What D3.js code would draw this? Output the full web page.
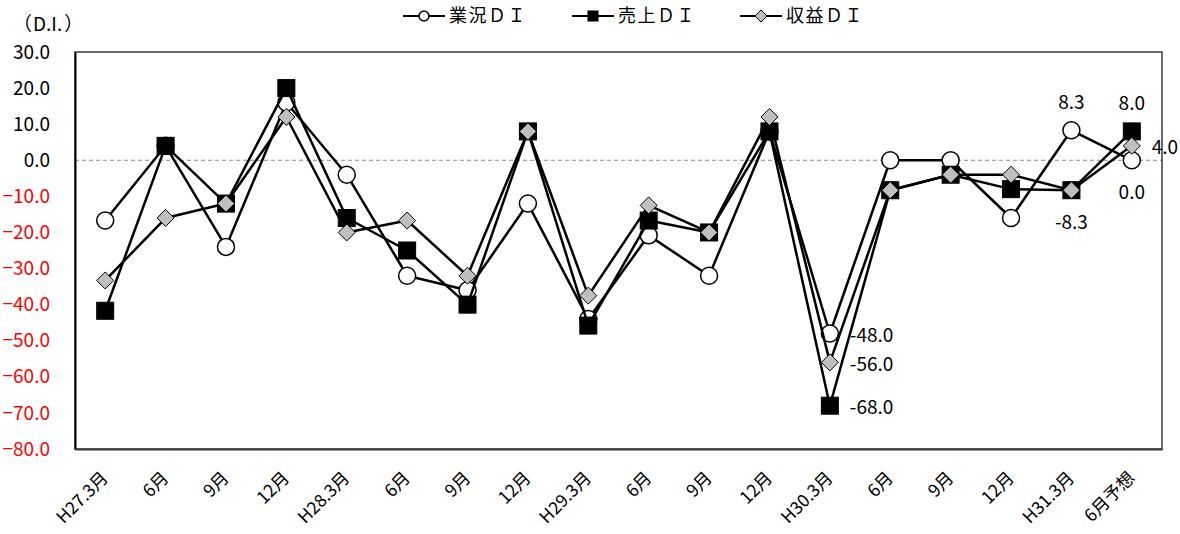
<!DOCTYPE html>
<html><head><meta charset="utf-8">
<script src="https://cdn.jsdelivr.net/npm/d3@7"></script>
<style>
body{margin:0;background:#fff}
text{font-family:"Noto Sans CJK JP","Noto Sans",sans-serif}
</style>
</head><body>
<svg id="c" width="1180" height="534"></svg>
<script>
const categories = ["H27.3月","6月","9月","12月","H28.3月","6月","9月","12月","H29.3月","6月","9月","12月","H30.3月","6月","9月","12月","H31.3月","6月予想"];
const gyokyoDI = [-16.7,4,-24,16,-4,-32,-36,-12,-44,-20.8,-32,8,-48,0,0,-16,8.3,0];
const uriageDI = [-41.7,4,-12,20,-16,-25,-40,8,-45.8,-16.7,-20,8,-68,-8.3,-4,-8,-8.3,8];
const shuekiDI = [-33.3,-16,-12,12,-20,-16.7,-32,8,-37.5,-12.5,-20,12,-56,-8.3,-4,-4,-8.3,4];
const seriesNames = ["業況ＤＩ","売上ＤＩ","収益ＤＩ"];
const yTicks = [30,20,10,0,-10,-20,-30,-40,-50,-60,-70,-80];
// data labels: [series index, category index, placement]
const dataLabels = [
  [0,12,"right"],[2,12,"right"],[1,12,"right"],
  [0,16,"above"],[1,16,"below"],
  [1,17,"above"],[2,17,"right"],[0,17,"below"]
];

const svg = d3.select("#c");
const L = 75, R = 1162, T = 52, B = 449;
const x = d3.scaleBand().domain(d3.range(categories.length)).range([L, R]);
const y = d3.scaleLinear().domain([-80, 30]).range([B, T]);
const cx = i => x(i) + x.bandwidth()/2;
const series = [gyokyoDI, uriageDI, shuekiDI];

// zero reference line
svg.append("line").attr("x1", L).attr("x2", R).attr("y1", y(0)).attr("y2", y(0))
  .attr("stroke", "#8c8c8c").attr("stroke-width", 1).attr("stroke-dasharray", "4,3");

// plot frame
svg.append("rect").attr("x", L).attr("y", T).attr("width", R-L).attr("height", B-T)
  .attr("fill", "none").attr("stroke", "#3a3a3a").attr("stroke-width", 1.5);

// y axis
const yAxis = d3.axisLeft(y).tickValues(yTicks).tickFormat(d3.format(".1f")).tickSize(0).tickPadding(25);
const gy = svg.append("g").attr("transform", `translate(${L},0)`).call(yAxis);
gy.select(".domain").attr("stroke", "#000").attr("stroke-width", 2);
gy.selectAll("text").style("font-size", "19px")
  .attr("fill", d => d < 0 ? "#ff0000" : "#000");

// x axis
const xAxis = d3.axisBottom(x).tickFormat(i => categories[i]).tickSize(0);
const gx = svg.append("g").attr("transform", `translate(0,${B})`).call(xAxis);
gx.select(".domain").attr("stroke", "#3a3a3a").attr("stroke-width", 2);
gx.selectAll("text").style("font-size", "17.5px").attr("fill", "#000")
  .attr("text-anchor", "end").attr("dy", null).attr("y", 0)
  .attr("transform", "translate(4,30) rotate(-45)");

// y axis title
const yt = svg.append("text").attr("x", 13).attr("y", 31).style("font-size", "19px");
yt.append("tspan").text("（");
yt.append("tspan").attr("dx", 1).text("D.I.");
yt.append("tspan").attr("dx", 2).text("）");

const line = d3.line().x((d,i) => cx(i)).y(d => y(d));

function drawMarker(g, type, px, py, s) {
  if (type === 0) {
    g.append("circle").attr("cx", px).attr("cy", py).attr("r", s.r)
      .attr("fill", "#fff").attr("stroke", "#000").attr("stroke-width", 1.5);
  } else if (type === 1) {
    g.append("rect").attr("x", px - s.sq/2).attr("y", py - s.sq/2).attr("width", s.sq).attr("height", s.sq)
      .attr("fill", "#000").attr("stroke", "#000").attr("stroke-width", 1);
  } else {
    const h = s.dm;
    g.append("path").attr("d", `M${px},${py-h}L${px+h},${py}L${px},${py+h}L${px-h},${py}Z`)
      .attr("fill", "#bfbfbf").attr("stroke", "#000").attr("stroke-width", 1);
  }
}

const big = {r: 8.5, sq: 17, dm: 8.5};
series.forEach((vals, si) => {
  const g = svg.append("g");
  g.append("path").attr("d", line(vals)).attr("fill", "none").attr("stroke", "#000").attr("stroke-width", 2.5)
    .attr("stroke-linejoin", "round");
  vals.forEach((v, i) => drawMarker(g, si, cx(i), y(v), big));
});

// data labels
dataLabels.forEach(([si, ci, pos]) => {
  const v = series[si][ci];
  let px = cx(ci), py = y(v), anchor = "middle";
  if (pos === "above") py -= 28;
  else if (pos === "below") py += 32;
  else { px += 20; anchor = "start"; py += 2; }
  svg.append("text").attr("x", px).attr("y", py).attr("dy", "0.35em").attr("text-anchor", anchor)
    .style("font-size", "19px").text(v.toFixed(1));
});

// legend
const small = {r: 5, sq: 10, dm: 6};
const legendX = [403, 572, 740];
seriesNames.forEach((name, si) => {
  const g = svg.append("g");
  const x0 = legendX[si], ly = 16;
  g.append("line").attr("x1", x0).attr("x2", x0 + 42).attr("y1", ly).attr("y2", ly)
    .attr("stroke", "#000").attr("stroke-width", 2);
  drawMarker(g, si, x0 + 21, ly, small);
  g.append("text").attr("x", x0 + 46).attr("y", ly).attr("dy", "0.36em")
    .style("font-size", "18px").style("letter-spacing", "1.5px").text(name);
});
</script>
</body></html>
